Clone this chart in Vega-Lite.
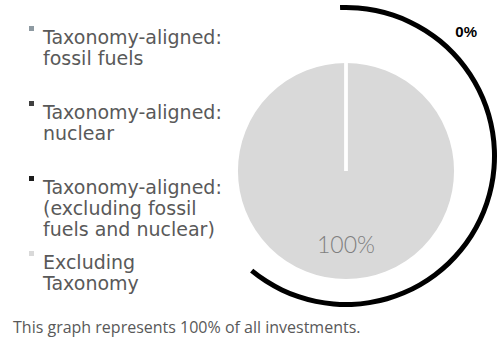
{
  "$schema": "https://vega.github.io/schema/vega-lite/v6.json",
  "width": 300,
  "height": 342,
  "autosize": {"type": "none"},
  "padding": {"left": 196, "top": 0, "right": 7, "bottom": 3},
  "background": "white",
  "config": {"view": {"stroke": null}},
  "title": {
    "text": "This graph represents 100% of all investments.",
    "orient": "bottom",
    "anchor": "start",
    "frame": "group",
    "dx": -183,
    "offset": -9,
    "baseline": "alphabetic",
    "font": "Open Sans",
    "fontSize": 16,
    "fontWeight": "normal",
    "color": "#595959"
  },
  "layer": [
    {
      "data": {
        "values": [
          {"category": "Excluding|Taxonomy", "share": 1.0, "rank": 1},
          {"category": "Taxonomy-aligned:|fossil fuels| ", "share": 0, "rank": 2},
          {"category": "Taxonomy-aligned:|nuclear| ", "share": 0, "rank": 3},
          {"category": "Taxonomy-aligned:|(excluding fossil|fuels and nuclear)", "share": 0, "rank": 4}
        ]
      },
      "mark": {"type": "arc", "radius": 109.5, "stroke": "white", "strokeWidth": 3},
      "encoding": {
        "theta": {"field": "share", "type": "quantitative", "stack": true},
        "order": {"field": "rank", "type": "quantitative"},
        "color": {
          "field": "category",
          "type": "nominal",
          "scale": {
            "domain": [
              "Taxonomy-aligned:|fossil fuels| ",
              "Taxonomy-aligned:|nuclear| ",
              "Taxonomy-aligned:|(excluding fossil|fuels and nuclear)",
              "Excluding|Taxonomy"
            ],
            "range": ["#8e9aa2", "#404040", "#1c1c1c", "#d9d9d9"]
          },
          "legend": {
            "orient": "none",
            "legendX": -174,
            "legendY": 19,
            "title": null,
            "padding": 0,
            "symbolType": "square",
            "symbolSize": 25,
            "symbolStrokeWidth": 0,
            "labelFont": "DejaVu Sans",
            "labelFontSize": 19,
            "labelColor": "#595959",
            "labelLimit": 300,
            "labelOffset": 2,
            "labelBaseline": "top",
            "labelLineHeight": 23,
            "rowPadding": 4,
            "labelExpr": "split(datum.label, '|')"
          }
        }
      }
    },
    {
      "data": {"values": [{"group": "Taxonomy-aligned", "share": 0}]},
      "mark": {"type": "arc", "theta": -0.04, "theta2": 3.83, "radius": 151, "radius2": 146, "fill": "black", "yOffset": -15},
      "encoding": {}
    },
    {
      "data": {"values": [{"group": "Taxonomy-aligned", "share": 0}]},
      "mark": {"type": "text", "theta": 0.712, "radius": 184, "font": "Liberation Sans", "fontWeight": "bold", "fontSize": 15, "color": "#000000", "baseline": "middle", "align": "center"},
      "encoding": {"text": {"field": "share", "type": "quantitative", "format": ".0%"}}
    },
    {
      "data": {"values": [{"group": "Excluding Taxonomy", "share": 1.0}]},
      "mark": {"type": "text", "theta": 3.14159, "radius": 75, "font": "Lato", "fontWeight": 300, "fontSize": 23, "color": "#7f7f7f", "baseline": "middle", "align": "center"},
      "encoding": {"text": {"field": "share", "type": "quantitative", "format": ".0%"}}
    }
  ]
}
